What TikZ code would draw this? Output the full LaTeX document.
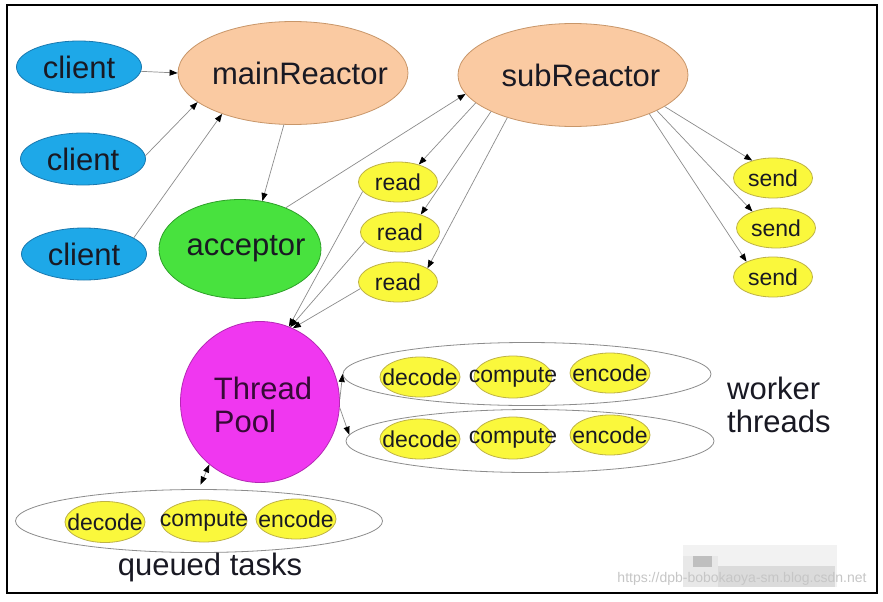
\documentclass[tikz,border=0pt]{standalone}
\usepackage{fontspec}
\setmainfont{Liberation Sans}
\usetikzlibrary{shapes.geometric,arrows.meta}
\definecolor{cblue}{RGB}{30,168,232}
\definecolor{cblueD}{RGB}{25,120,175}
\definecolor{peach}{RGB}{250,202,162}
\definecolor{peachD}{RGB}{200,150,105}
\definecolor{cgreen}{RGB}{72,226,62}
\definecolor{cgreenD}{RGB}{45,160,40}
\definecolor{cyel}{RGB}{250,248,60}
\definecolor{cyelD}{RGB}{190,178,70}
\definecolor{cmag}{RGB}{240,55,240}
\definecolor{cmagD}{RGB}{180,40,180}
\definecolor{lnc}{RGB}{140,140,140}
\definecolor{txt}{RGB}{25,25,35}
\newcommand{\mbx}[1]{\makebox[0pt]{#1}}
\begin{document}
\begin{tikzpicture}[x=1pt,y=-1pt,
  ell/.style={ellipse, inner sep=0pt, line width=0.8pt, text=txt},
  big/.style={font=\fontsize{31}{33}\selectfont},
  small/.style={font=\fontsize{23}{25}\selectfont},
  clientn/.style={ell, big, fill=cblue, draw=cblueD, minimum width=125pt, minimum height=52pt},
  reactor/.style={ell, big, fill=peach, draw=peachD, minimum width=230pt, minimum height=103pt},
  yel/.style={ell, small, fill=cyel, draw=cyelD, minimum width=79pt, minimum height=40pt},
  group/.style={ellipse, inner sep=0pt, draw=lnc, line width=0.8pt, minimum width=368pt, minimum height=63pt},
  ar/.style={draw=lnc, line width=0.7pt, -{Triangle[length=8pt,width=6pt,color=black]}},
  ar2/.style={draw=lnc, line width=0.7pt, {Triangle[length=8pt,width=6pt,color=black]}-{Triangle[length=8pt,width=6pt,color=black]}}
]
\useasboundingbox (0,0) rectangle (883,602);
\fill[white] (0,0) rectangle (883,602);

% watermark mosaic
\fill[gray!10] (683,545) rectangle (837,587);
\fill[gray!28] (718,566) rectangle (835,587);
\fill[gray!18] (683,556) rectangle (718,587);
\fill[gray!50] (693,556) rectangle (712,567);

% nodes
\node[clientn] (c1) at (79,67) {\mbx{client}};
\node[clientn] (c2) at (83,159) {\mbx{client}};
\node[clientn] (c3) at (84,254) {\mbx{client}};
\node[reactor] (main) at (293,73) {\mbx{\hspace{14pt}mainReactor}};
\node[reactor] (sub) at (573,75) {\mbx{\hspace{16pt}subReactor}};
\node[ell, big, fill=cgreen, draw=cgreenD, minimum width=162pt, minimum height=99pt] (acc) at (240,249) {\mbx{\hspace{12pt}acceptor}};

\node[yel] (r1) at (398,182) {\mbx{read}};
\node[yel] (r2) at (400,232) {\mbx{read}};
\node[yel] (r3) at (398,282) {\mbx{read}};
\node[yel] (s1) at (773,178) {\mbx{send}};
\node[yel] (s2) at (776,228) {\mbx{send}};
\node[yel] (s3) at (773,277) {\mbx{send}};

\node[ell, big, fill=cmag, draw=cmagD, minimum width=159pt, minimum height=161pt] (pool) at (260,402) {};
\node[big, align=left, inner sep=0pt, text={rgb,255:red,55;green,10;blue,55}] (pooltxt) at (263,405) {Thread\\Pool};

\node[group] (w1) at (527,374) {};
\node[group] (w2) at (530,441) {};
\node[group, minimum width=367pt] (q) at (199,521) {};

\node[yel, minimum width=80pt] (d1) at (420,377) {\mbx{decode}};
\node[yel, minimum width=78pt, minimum height=42pt] (cp1) at (513,377) {\mbx{compute}};
\node[yel, minimum width=80pt] (e1) at (610,373) {\mbx{encode}};
\node[yel, minimum width=80pt] (d2) at (420,439) {\mbx{decode}};
\node[yel, minimum width=78pt, minimum height=42pt] (cp2) at (513,438) {\mbx{compute}};
\node[yel, minimum width=80pt] (e2) at (610,435) {\mbx{encode}};
\node[yel, minimum width=80pt, minimum height=41pt] (qd) at (105,522) {\mbx{decode}};
\node[yel, minimum width=86pt, minimum height=42pt] (qc) at (204,521) {\mbx{compute}};
\node[yel, minimum width=80pt] (qe) at (296,519) {\mbx{encode}};

\node[big, text=txt, anchor=west, align=left, inner sep=0pt] (wt) at (727,405) {worker\\threads};
\node[big, text=txt, inner sep=0pt] (qt) at (210,567) {queued tasks};

\node[text=gray!45, font=\fontsize{14}{14}\selectfont, inner sep=0pt] (wm) at (742,579) {https://dpb-bobokaoya-sm.blog.csdn.net};

% connectors
\draw[ar] (c1.-4) -- (main.180);
\draw[ar] (c2.3) -- (main.197);
\draw[ar] (c3.18) -- (main.210);
\draw[ar] (main.260) -- (acc.65);
\draw[ar] (acc.42) -- (sub.190);
\draw[ar] (sub.196) -- (r1.40);
\draw[ar] (sub.204) -- (r2.40);
\draw[ar] (sub.213) -- (r3.25);
\draw[ar] (sub.-19) -- (s1.140);
\draw[ar] (sub.-23) -- (s2.145);
\draw[ar] (sub.-27) -- (s3.150);
\draw[ar] (r1.195) -- (pool.69);
\draw[ar] (r2.195) -- (pool.68);
\draw[ar] (r3.190) -- (pool.66);
\draw[ar] (pool.2) -- (w1.180);
\draw[ar] (pool.-4) -- (w2.178);
\draw[ar2, shorten <=5pt] (q.91) -- (pool.231);

% frame
\draw[line width=1.6pt, black] (7,5) rectangle (877,593);
\end{tikzpicture}
\end{document}
